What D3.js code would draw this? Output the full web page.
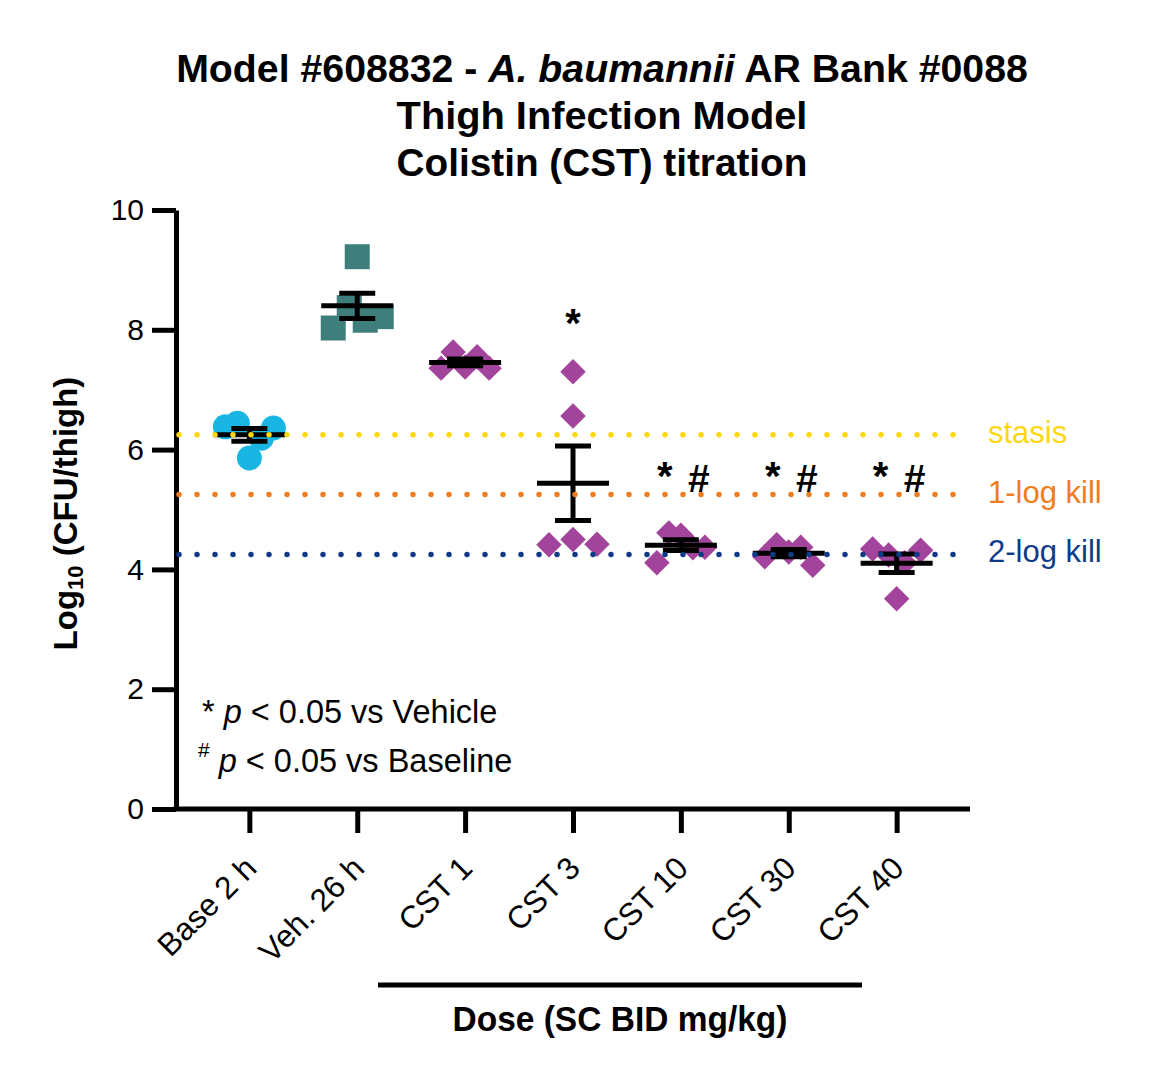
<!DOCTYPE html>
<html>
<head>
<meta charset="utf-8">
<script src="https://cdn.jsdelivr.net/npm/d3@7"></script>
<style>
  body { margin: 0; background: #fff; }
  text { font-family: "Liberation Sans", Arial, sans-serif; }
</style>
</head>
<body>
<div id="viz-container"></div>
<script>
let width = 1159;
let height = 1082;

// data (log10 CFU/thigh), listed in the left-to-right order of the dots
let categories = ["Base 2 h", "Veh. 26 h", "CST 1", "CST 3", "CST 10", "CST 30", "CST 40"];
let baseVals = [6.38, 6.44, 5.86, 6.19, 6.36];
let vehVals = [9.22, 8.03, 8.37, 8.16, 8.22];
let cst1Vals = [7.36, 7.63, 7.38, 7.55, 7.36];
let cst3Vals = [7.30, 6.56, 4.41, 4.50, 4.42];
let cst10Vals = [4.11, 4.61, 4.57, 4.36, 4.37];
let cst30Vals = [4.21, 4.41, 4.29, 4.37, 4.07];
let cst40Vals = [4.34, 4.24, 4.11, 4.32, 3.51];
let groupVals = [baseVals, vehVals, cst1Vals, cst3Vals, cst10Vals, cst30Vals, cst40Vals];

let shapes = ["circle", "square", "diamond", "diamond", "diamond", "diamond", "diamond"];
let pallet = ["#19B6E4", "#3E7F7C", "#A2449B", "#A2449B", "#A2449B", "#A2449B", "#A2449B"];

let refLevels = [6.25, 5.25, 4.25];
let refLabels = ["stasis", "1-log kill", "2-log kill"];
let refColors = ["#FDD80F", "#EE7D21", "#0E3B87"];

let sigStars = ["", "", "", "*", "*", "*", "*"];
let sigHashes = ["", "", "", "", "#", "#", "#"];
let sigLevels = [null, null, null, 8.0, 5.45, 5.45, 5.45];

let yTicks = [0, 2, 4, 6, 8, 10];

let plotLeft = 176, plotRight = 970, plotTop = 210, plotBottom = 809;

let viz = d3.select('#viz-container')
  .append('svg')
  .attr('id', 'viz')
  .attr('width', width)
  .attr('height', height);

let y = d3.scaleLinear().domain([0, 10]).range([plotBottom, plotTop]);
let x = d3.scalePoint().domain(categories).range([plotLeft, plotRight]).padding(0.68);

// stretch/squeeze a text to a given width (title font is a condensed bold)
function fitWidth(sel, w) {
  let node = sel.node();
  let bb = node.getBBox();
  let cx = bb.x + bb.width / 2;
  let k = w / bb.width;
  sel.attr('transform', 'translate(' + cx + ',0) scale(' + k + ',1) translate(' + (-cx) + ',0)');
}

// title
let titleFont = '"Liberation Sans Narrow", "Arial Narrow", "Liberation Sans", Arial, sans-serif';
let t1 = viz.append('text').attr('x', 602).attr('y', 82).attr('text-anchor', 'middle')
  .attr('font-size', 38).attr('font-weight', 'bold').style('font-family', titleFont);
t1.append('tspan').text('Model #608832 - ');
t1.append('tspan').attr('font-style', 'italic').text('A. baumannii');
t1.append('tspan').text(' AR Bank #0088');
fitWidth(t1, 852);

let t2 = viz.append('text').attr('x', 602).attr('y', 129).attr('text-anchor', 'middle')
  .attr('font-size', 38).attr('font-weight', 'bold').style('font-family', titleFont)
  .text('Thigh Infection Model');
fitWidth(t2, 411);

let t3 = viz.append('text').attr('x', 602).attr('y', 176).attr('text-anchor', 'middle')
  .attr('font-size', 38).attr('font-weight', 'bold').style('font-family', titleFont)
  .text('Colistin (CST) titration');
fitWidth(t3, 411);

// y axis
let yAxis = viz.append('g')
  .attr('transform', 'translate(' + plotLeft + ',0)')
  .call(d3.axisLeft(y).tickValues(yTicks).tickSize(24).tickSizeOuter(0).tickPadding(8));
yAxis.select('.domain').attr('stroke-width', 5).attr('stroke', '#000');
yAxis.selectAll('.tick line').attr('stroke-width', 5).attr('stroke', '#000');
yAxis.selectAll('.tick text').attr('font-size', 30).attr('fill', '#000')
  .style('font-family', '"Liberation Sans", Arial, sans-serif');

// x axis
let xAxis = viz.append('g')
  .attr('transform', 'translate(0,' + plotBottom + ')')
  .call(d3.axisBottom(x).tickSize(24).tickSizeOuter(0).tickFormat(''));
xAxis.select('.domain').attr('stroke-width', 5).attr('stroke', '#000')
  .attr('d', 'M' + (plotLeft - 2.5) + ',0H' + plotRight);
xAxis.selectAll('.tick line').attr('stroke-width', 5).attr('stroke', '#000');

viz.selectAll('.xLabel').data(categories).enter()
  .append('text')
  .attr('class', 'xLabel')
  .attr('transform', function(d) {
    return 'translate(' + (x(d) + 9) + ',' + (plotBottom + 61) + ') rotate(-45)';
  })
  .attr('text-anchor', 'end')
  .attr('font-size', 31.5)
  .text(function(d) { return d; });

// y axis title
let yt = viz.append('text')
  .attr('transform', 'translate(77,' + ((plotTop + plotBottom) / 2 + 4) + ') rotate(-90)')
  .attr('text-anchor', 'middle')
  .attr('font-size', 33)
  .attr('font-weight', 'bold');
yt.append('tspan').text('Log');
yt.append('tspan').attr('font-size', 22).attr('dy', 6).text('10');
yt.append('tspan').attr('dy', -6).text(' (CFU/thigh)');

// dose bar + label
viz.append('line')
  .attr('x1', 378).attr('x2', 862)
  .attr('y1', 985).attr('y2', 985)
  .attr('stroke', '#000').attr('stroke-width', 5);
let xt = viz.append('text').attr('x', 620).attr('y', 1031).attr('text-anchor', 'middle')
  .attr('font-size', 36).attr('font-weight', 'bold').style('font-family', titleFont)
  .text('Dose (SC BID mg/kg)');
fitWidth(xt, 335);

// scatter layout: values closer than gap px form a row, spread evenly across the column
function spread(vals) {
  let gap = 20, half = 24;
  let order = vals.map(function(v, i) { return i; }).sort(function(a, b) { return vals[b] - vals[a]; });
  let clusters = [];
  order.forEach(function(i, k) {
    if (k > 0 && Math.abs(y(vals[i]) - y(vals[order[k - 1]])) < gap) {
      clusters[clusters.length - 1].push(i);
    } else {
      clusters.push([i]);
    }
  });
  let offs = new Array(vals.length).fill(0);
  clusters.forEach(function(c) {
    c.sort(function(a, b) { return a - b; });
    let n = c.length;
    c.forEach(function(i, k) {
      offs[i] = n > 1 ? -half + k * (2 * half / (n - 1)) : 0;
    });
  });
  return offs;
}

let points = [];
groupVals.forEach(function(vals, g) {
  let offs = spread(vals);
  vals.forEach(function(v, i) {
    points.push({ g: g, v: v, dx: offs[i] });
  });
});

let symbolFor = {
  circle: d3.symbol().type(d3.symbolCircle).size(Math.PI * 12.5 * 12.5),
  square: d3.symbol().type(d3.symbolSquare).size(25 * 25),
  diamond: d3.symbol().type(d3.symbolSquare).size(18 * 18)
};

viz.selectAll('.pt').data(points).enter()
  .append('path')
  .attr('class', 'pt')
  .attr('d', function(d) { return symbolFor[shapes[d.g]](); })
  .attr('transform', function(d) {
    let t = 'translate(' + (x(categories[d.g]) + d.dx) + ',' + y(d.v) + ')';
    if (shapes[d.g] === 'diamond') t += ' rotate(45)';
    return t;
  })
  .attr('fill', function(d) { return pallet[d.g]; });

// mean +/- SEM
let stats = groupVals.map(function(vals, g) {
  let m = d3.mean(vals);
  let sem = d3.deviation(vals) / Math.sqrt(vals.length);
  return { g: g, mean: m, lo: m - sem, hi: m + sem };
});

let eb = viz.selectAll('.errBar').data(stats).enter()
  .append('g')
  .attr('class', 'errBar')
  .attr('stroke', '#000')
  .attr('stroke-width', 5);
eb.append('line')
  .attr('x1', function(d) { return x(categories[d.g]); })
  .attr('x2', function(d) { return x(categories[d.g]); })
  .attr('y1', function(d) { return y(d.hi); })
  .attr('y2', function(d) { return y(d.lo); });
eb.append('line')
  .attr('x1', function(d) { return x(categories[d.g]) - 18; })
  .attr('x2', function(d) { return x(categories[d.g]) + 18; })
  .attr('y1', function(d) { return y(d.hi); })
  .attr('y2', function(d) { return y(d.hi); });
eb.append('line')
  .attr('x1', function(d) { return x(categories[d.g]) - 18; })
  .attr('x2', function(d) { return x(categories[d.g]) + 18; })
  .attr('y1', function(d) { return y(d.lo); })
  .attr('y2', function(d) { return y(d.lo); });
eb.append('line')
  .attr('x1', function(d) { return x(categories[d.g]) - 36; })
  .attr('x2', function(d) { return x(categories[d.g]) + 36; })
  .attr('y1', function(d) { return y(d.mean); })
  .attr('y2', function(d) { return y(d.mean); });

// reference lines (dotted) and their labels
viz.selectAll('.refLine').data(refLevels).enter()
  .append('line')
  .attr('class', 'refLine')
  .attr('x1', plotLeft + 3).attr('x2', plotRight)
  .attr('y1', function(d) { return y(d); })
  .attr('y2', function(d) { return y(d); })
  .attr('stroke', function(d, i) { return refColors[i]; })
  .attr('stroke-width', 5.5)
  .attr('stroke-linecap', 'round')
  .attr('stroke-dasharray', '0 18');

viz.selectAll('.refText').data(refLevels).enter()
  .append('text')
  .attr('class', 'refText')
  .attr('x', 988)
  .attr('y', function(d) { return y(d) + 8; })
  .attr('font-size', 31)
  .attr('fill', function(d, i) { return refColors[i]; })
  .text(function(d, i) { return refLabels[i]; });

// significance marks
categories.forEach(function(c, i) {
  if (sigLevels[i] === null) return;
  let both = sigHashes[i] !== '';
  viz.append('text')
    .attr('x', x(c) + (both ? -16 : 0))
    .attr('y', y(sigLevels[i]) + 7)
    .attr('text-anchor', 'middle')
    .attr('font-size', 40).attr('font-weight', 'bold')
    .text(sigStars[i]);
  if (both) {
    viz.append('text')
      .attr('x', x(c) + 18)
      .attr('y', y(sigLevels[i]) + 9)
      .attr('text-anchor', 'middle')
      .attr('font-size', 39).attr('font-weight', 'bold')
      .text(sigHashes[i]);
  }
});

// legend for the marks
let l1 = viz.append('text').attr('x', 202).attr('y', 723).attr('font-size', 32.5);
l1.append('tspan').text('* ');
l1.append('tspan').attr('font-style', 'italic').text('p');
l1.append('tspan').text(' < 0.05 vs Vehicle');

let l2 = viz.append('text').attr('x', 198).attr('y', 772).attr('font-size', 32.5);
l2.append('tspan').attr('font-size', 21).attr('dy', -15).text('#');
l2.append('tspan').attr('dy', 15).attr('font-style', 'italic').text(' p');
l2.append('tspan').text(' < 0.05 vs Baseline');
</script>
</body>
</html>
